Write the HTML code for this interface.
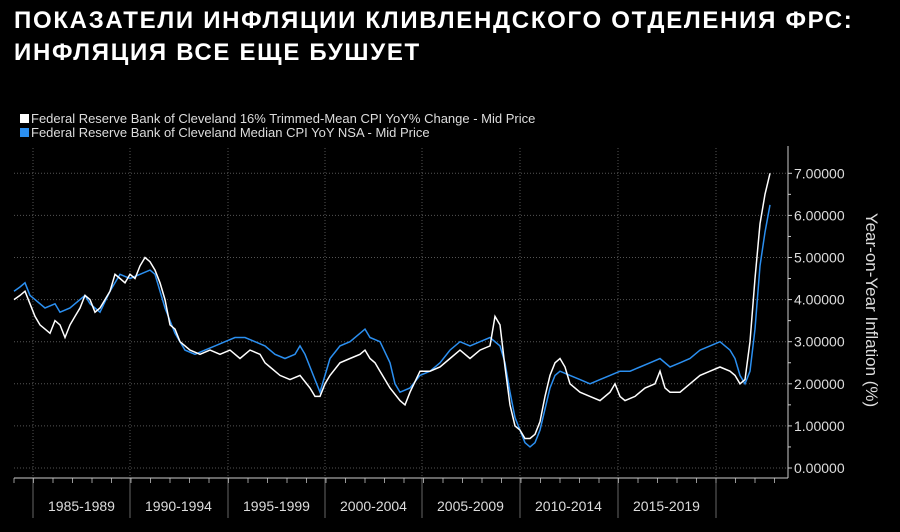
<!DOCTYPE html>
<html><head><meta charset="utf-8"><style>
body{margin:0;background:#000;width:900px;height:532px;overflow:hidden;font-family:"Liberation Sans","DejaVu Sans",sans-serif}
.t{position:absolute;left:14px;top:5px;color:#fff;font-weight:bold;font-size:24px;line-height:32px;letter-spacing:1.7px}
</style></head><body>
<div class="t">ПОКАЗАТЕЛИ ИНФЛЯЦИИ КЛИВЛЕНДСКОГО ОТДЕЛЕНИЯ ФРС:<br>ИНФЛЯЦИЯ ВСЕ ЕЩЕ БУШУЕТ</div>
<svg id="s" width="900" height="532" style="position:absolute;left:0;top:0" font-family="Liberation Sans, DejaVu Sans, sans-serif"></svg>
<script>
var s=document.getElementById('s'),h='';
function Y(v){return 468-42.1*v}
h+='<rect x="20" y="114" width="9" height="9" fill="#fff"/><text x="31" y="123" fill="#ddd" font-size="13">Federal Reserve Bank of Cleveland 16% Trimmed-Mean CPI YoY% Change - Mid Price</text>';
h+='<rect x="20" y="128" width="9" height="9" fill="#2b8ff0"/><text x="31" y="137" fill="#ddd" font-size="13">Federal Reserve Bank of Cleveland Median CPI YoY NSA - Mid Price</text>';
for(var v=0;v<=7;v++){h+='<line x1="14" x2="788" y1="'+Y(v)+'" y2="'+Y(v)+'" stroke="#555" stroke-dasharray="1,2"/>';
h+='<line x1="788" x2="792" y1="'+Y(v)+'" y2="'+Y(v)+'" stroke="#ccc"/><text x="794" y="'+(Y(v)+5)+'" fill="#ddd" font-size="14">'+v+'.00000</text>';
if(v<7)h+='<line x1="788" x2="791" y1="'+Y(v+0.5)+'" y2="'+Y(v+0.5)+'" stroke="#ccc"/>';}
var sep=[33,130,228,325,422,520,618,716],lab=['1985-1989','1990-1994','1995-1999','2000-2004','2005-2009','2010-2014','2015-2019'];
sep.forEach(function(x,i){h+='<line x1="'+x+'" x2="'+x+'" y1="148" y2="476" stroke="#555" stroke-dasharray="1,2"/><line x1="'+x+'" x2="'+x+'" y1="478" y2="518" stroke="#666"/>';
if(i<7)h+='<text x="'+(x+48.5)+'" y="511" fill="#ddd" font-size="14" text-anchor="middle">'+lab[i]+'</text>';});
for(var x=14;x<788;x+=19.5)h+='<line x1="'+x+'" x2="'+x+'" y1="478" y2="483" stroke="#999"/>';
h+='<line x1="14" x2="788" y1="478" y2="478" stroke="#ccc"/><line x1="788" x2="788" y1="146" y2="478" stroke="#ccc"/>';
h+='<text transform="translate(866,310) rotate(90)" fill="#ddd" font-size="17" text-anchor="middle">Year-on-Year Inflation (%)</text>';
var w=[14,4.0,20,4.1,25,4.2,30,3.9,35,3.6,40,3.4,45,3.3,50,3.2,55,3.5,60,3.4,65,3.1,70,3.4,75,3.6,80,3.8,85,4.1,90,4.0,95,3.7,100,3.8,110,4.2,115,4.6,120,4.5,125,4.4,130,4.6,135,4.5,140,4.8,145,5.0,150,4.9,155,4.7,160,4.4,165,4.0,170,3.4,175,3.3,180,3.0,190,2.8,200,2.7,210,2.8,220,2.7,230,2.8,240,2.6,250,2.8,260,2.7,265,2.5,270,2.4,280,2.2,290,2.1,300,2.2,310,1.9,315,1.7,320,1.7,325,2.0,330,2.2,340,2.5,350,2.6,360,2.7,365,2.8,370,2.6,375,2.5,380,2.3,390,1.9,400,1.6,405,1.5,410,1.8,420,2.3,430,2.3,440,2.4,450,2.6,460,2.8,470,2.6,480,2.8,490,2.9,495,3.6,500,3.4,505,2.4,510,1.5,515,1.0,520,0.9,525,0.7,530,0.7,535,0.8,540,1.1,545,1.7,550,2.2,555,2.5,560,2.6,565,2.4,570,2.0,580,1.8,590,1.7,600,1.6,610,1.8,615,2.0,620,1.7,625,1.6,635,1.7,645,1.9,655,2.0,660,2.3,665,1.9,670,1.8,680,1.8,690,2.0,700,2.2,710,2.3,720,2.4,730,2.3,735,2.2,740,2.0,745,2.1,750,3.0,755,4.5,760,5.8,765,6.5,770,7.0];
var b=[14,4.2,20,4.3,25,4.4,30,4.1,35,4.0,45,3.8,55,3.9,60,3.7,70,3.8,80,4.0,85,4.1,90,3.9,95,3.8,100,3.7,110,4.2,120,4.6,130,4.5,140,4.6,150,4.7,155,4.6,160,4.2,165,3.8,170,3.5,175,3.2,180,3.0,185,2.8,195,2.7,205,2.8,215,2.9,225,3.0,235,3.1,245,3.1,255,3.0,265,2.9,275,2.7,285,2.6,295,2.7,300,2.9,305,2.7,315,2.1,320,1.8,325,2.2,330,2.6,340,2.9,350,3.0,360,3.2,365,3.3,370,3.1,380,3.0,390,2.5,395,2.0,400,1.8,410,1.9,420,2.2,430,2.3,440,2.5,450,2.8,460,3.0,470,2.9,480,3.0,490,3.1,500,2.9,505,2.5,510,1.8,515,1.2,520,0.9,525,0.6,530,0.5,535,0.6,540,0.9,545,1.4,550,1.9,555,2.2,560,2.3,570,2.2,580,2.1,590,2.0,600,2.1,610,2.2,620,2.3,630,2.3,640,2.4,650,2.5,660,2.6,670,2.4,680,2.5,690,2.6,700,2.8,710,2.9,720,3.0,725,2.9,730,2.8,735,2.6,740,2.2,745,2.0,750,2.3,755,3.3,760,4.8,765,5.6,770,6.25];
function P(a,c){var p='';for(var i=0;i<a.length;i+=2)p+=a[i]+','+Y(a[i+1]).toFixed(1)+' ';return '<polyline points="'+p+'" fill="none" stroke="'+c+'" stroke-width="1.5"/>';}
h+=P(b,'#2b8ff0')+P(w,'#fff');
s.innerHTML=h;
</script>
</body></html>
